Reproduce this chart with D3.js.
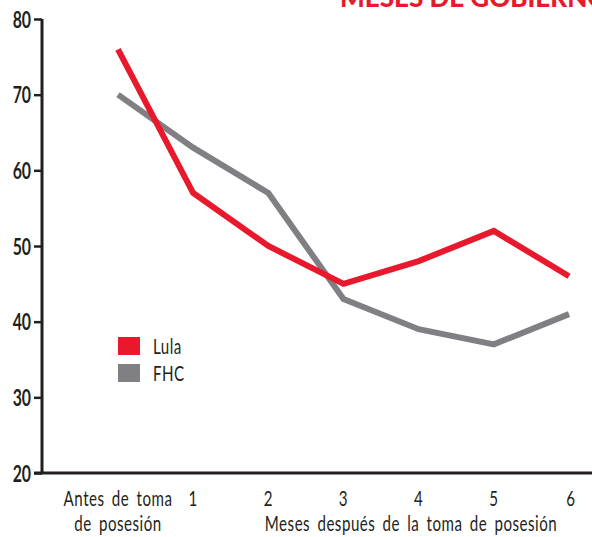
<!DOCTYPE html>
<html>
<head>
<meta charset="utf-8">
<script src="https://cdn.jsdelivr.net/npm/d3@7"></script>
<style>
body { margin: 0; background: #fff; }
svg text { font-family: Lato, "DejaVu Sans", sans-serif; fill: #231f20; }
</style>
</head>
<body>
<svg></svg>
<script>
let categories = ["Antes de toma", "1", "2", "3", "4", "5", "6"];
let lula = [76, 57, 50, 45, 48, 52, 46];
let fhc = [70, 63, 57, 43, 39, 37, 41];
let yTicks = [20, 30, 40, 50, 60, 70, 80];
let seriesNames = ["Lula", "FHC"];
let colors = ["#e8192c", "#808084"];

let width = 592;
let height = 537;
let squeeze = 0.72;

let svg = d3.select("svg")
    .attr("width", width)
    .attr("height", height);

let xScale = d3.scalePoint()
    .domain(categories)
    .range([118, 569]);

let yScale = d3.scaleLinear()
    .domain([20, 80])
    .range([473, 19]);

// narrow text helper
let narrowText = (x, y, txt, anchor, size, weight) => {
    return svg.append("text")
        .attr("transform", `translate(${x}, ${y}) scale(${squeeze}, 1)`)
        .attr("text-anchor", anchor)
        .style("font-size", size + "px")
        .style("font-weight", weight || "normal")
        .style("letter-spacing", "0.7px")
        .style("word-spacing", "4px")
        .text(txt);
};

// title, cut off at top
svg.append("text")
    .attr("x", 340)
    .attr("y", 7)
    .style("font-family", "Lato, sans-serif")
    .style("font-weight", "900")
    .style("font-size", "26px")
    .style("fill", "#e8192c")
    .text("MESES DE GOBIERNO");

// y axis
let yAxis = d3.axisLeft(yScale).tickValues(yTicks).tickSize(8).tickPadding(4);
let gy = svg.append("g")
    .attr("transform", "translate(42, 0)")
    .call(yAxis);
gy.select(".domain").remove();
gy.selectAll(".tick line").attr("stroke", "#231f20").attr("stroke-width", 2.5);
gy.selectAll(".tick text")
    .attr("x", null)
    .attr("dy", null)
    .attr("transform", `translate(-11, 8) scale(${squeeze}, 1)`)
    .style("font-size", "22px")
    .style("font-weight", "bold")
    .style("fill", "#231f20");

svg.append("line")
    .attr("x1", 42).attr("x2", 42)
    .attr("y1", yScale(80)).attr("y2", yScale(20))
    .attr("stroke", "#231f20").attr("stroke-width", 3);

svg.append("line")
    .attr("x1", 34).attr("x2", width)
    .attr("y1", yScale(20)).attr("y2", yScale(20))
    .attr("stroke", "#231f20").attr("stroke-width", 3);

// x labels
categories.forEach(d => {
    narrowText(xScale(d) + (d === "6" ? 2 : 0), 506, d, "middle", 21);
});
narrowText(xScale(categories[0]), 531, "de posesión", "middle", 21);
narrowText(411, 531, "Meses después de la toma de posesión", "middle", 21);

// lines
let line = d3.line()
    .x((d, i) => xScale(categories[i]))
    .y(d => yScale(d));

[fhc, lula].forEach((s, i) => {
    svg.append("path")
        .datum(s)
        .attr("d", line)
        .attr("fill", "none")
        .attr("stroke", i === 0 ? colors[1] : colors[0])
        .attr("stroke-width", 6)
        .attr("stroke-linejoin", "miter");
});

// legend
seriesNames.forEach((name, i) => {
    svg.append("rect")
        .attr("x", 118)
        .attr("y", 337 + i * 27)
        .attr("width", 22)
        .attr("height", 18)
        .attr("fill", colors[i]);
    narrowText(153, 354 + i * 27, name, "start", 21);
});
</script>
</body>
</html>
